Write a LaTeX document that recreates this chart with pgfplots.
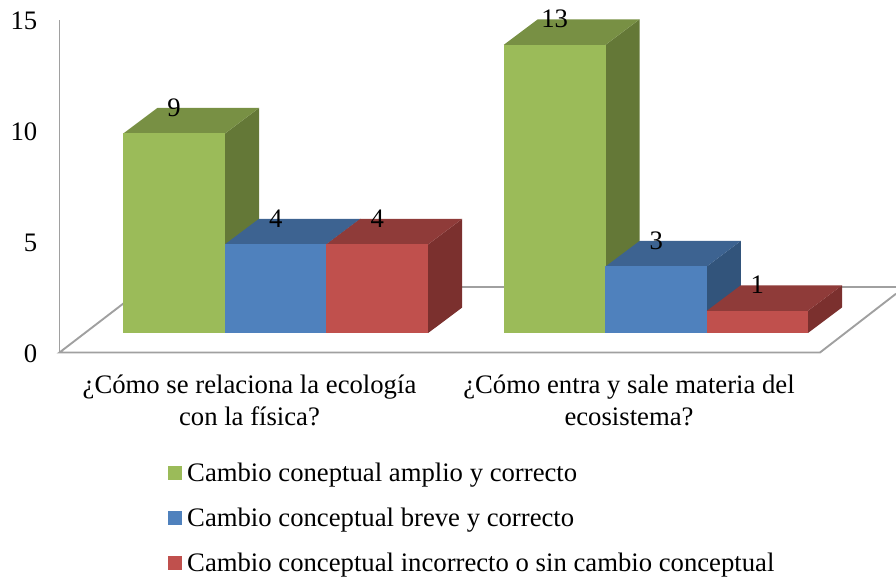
\documentclass[border=0pt]{standalone}
\usepackage{fontspec}
\setmainfont{Liberation Serif}
\usepackage{pgfplots}
\pgfplotsset{compat=1.18}
\newcommand{\chartfont}{\fontsize{26.7}{31.5}\selectfont}
\definecolor{greenfront}{HTML}{9BBB59}
\definecolor{greentop}{HTML}{789044}
\definecolor{greenside}{HTML}{647837}
\definecolor{bluefront}{HTML}{4F81BD}
\definecolor{bluetop}{HTML}{3D6391}
\definecolor{blueside}{HTML}{32547B}
\definecolor{redfront}{HTML}{C0504D}
\definecolor{redtop}{HTML}{8F3B39}
\definecolor{redside}{HTML}{7B302E}
\definecolor{wall}{HTML}{A0A0A0}
\pgfplotsset{
  /pgf/number format/assume math mode=true,
  panel/.style={
    scale only axis, clip=false,
    at={(59.5pt,224.5pt)}, anchor=south west,
    width=836.5pt, height=332.5pt,
    xmin=59.5, xmax=896,
  },
  face/.style={fill=#1, draw=none, forget plot, mark=none},
  swatch/.style={legend image code/.code={\fill[##1,draw=none] (0pt,-7pt) rectangle (14pt,7pt);}},
  column/.style={
    ybar, bar width=101.7pt, bar shift=0pt, fill=#1, draw=none, swatch,
    nodes near coords,
    every node near coord/.style={anchor=center, yshift=26pt, font=\chartfont, text=black, inner sep=0pt},
  },
}
\begin{document}
\begin{tikzpicture}[x=1pt,y=1pt]
\path[use as bounding box] (0,0) rectangle (896pt,577pt);

% Walls, floor and value axis
\begin{axis}[
  panel,
  ymin=0, ymax=15,
  axis x line=none,
  axis y line=left,
  axis line style={-, draw=wall, line width=1.9pt},
  ytick={0,5,10,15},
  major tick length=0pt,
  yticklabel style={font=\chartfont, anchor=east, xshift=-22pt, yshift=-1pt, inner sep=0pt},
  xtick=\empty,
]
\addplot[wall, line width=1.9pt, mark=none] coordinates {(144.5,2.94) (59.5,0) (820,0) (896,2.65)};
\addplot[wall, line width=1.9pt, mark=none] coordinates {(144.5,2.94) (896,2.94)};
\end{axis}

% Category labels
\begin{axis}[
  panel,
  ymin=0, ymax=15,
  axis x line=none, axis y line=none,
  xtick=\empty, ytick=\empty,
]
\node[font=\chartfont, align=center, anchor=north, inner sep=0pt] at (axis cs:249.5,-1.02) {¿Cómo se relaciona la ecología\\con la física?};
\node[font=\chartfont, align=center, anchor=north, inner sep=0pt] at (axis cs:629,-1.02) {¿Cómo entra y sale materia del\\ecosistema?};
\end{axis}

% Columns: the value 0 sits on the raised floor of the bars
\begin{axis}[
  panel,
  ymin=-0.881, ymax=14.119,
  hide axis,
  legend style={
    at={(108.5pt,-108pt)}, anchor=north west, draw=none, fill=none,
    font=\chartfont, row sep=21pt, inner sep=0pt, cells={anchor=west},
    /tikz/column 1/.style={column sep=3pt},
  },
  legend cell align=left,
]
% first series
\addplot[face=greenside] coordinates {(225,0) (259,1.15) (259,10.15) (225,9)} --cycle;
\addplot[face=greentop] coordinates {(123.3,9) (157.3,10.15) (259,10.15) (225,9)} --cycle;
\addplot[column=greenfront] coordinates {(174.1,9)};
\addlegendentry{Cambio coneptual amplio y correcto}
\addplot[face=greenside] coordinates {(605.6,0) (639.6,1.15) (639.6,14.15) (605.6,13)} --cycle;
\addplot[face=greentop] coordinates {(503.8,13) (537.8,14.15) (639.6,14.15) (605.6,13)} --cycle;
\addplot[column=greenfront, forget plot] coordinates {(554.7,13)};
% second series
\addplot[face=blueside] coordinates {(326.4,0) (360.4,1.15) (360.4,5.15) (326.4,4)} --cycle;
\addplot[face=bluetop] coordinates {(225,4) (259,5.15) (360.4,5.15) (326.4,4)} --cycle;
\addplot[column=bluefront] coordinates {(275.7,4)};
\addlegendentry{Cambio conceptual breve y correcto}
\addplot[face=blueside] coordinates {(706.8,0) (740.8,1.15) (740.8,4.15) (706.8,3)} --cycle;
\addplot[face=bluetop] coordinates {(605.6,3) (639.6,4.15) (740.8,4.15) (706.8,3)} --cycle;
\addplot[column=bluefront, forget plot] coordinates {(656.2,3)};
% third series
\addplot[face=redside] coordinates {(428.2,0) (462.2,1.15) (462.2,5.15) (428.2,4)} --cycle;
\addplot[face=redtop] coordinates {(326.4,4) (360.4,5.15) (462.2,5.15) (428.2,4)} --cycle;
\addplot[column=redfront] coordinates {(377.3,4)};
\addlegendentry{Cambio conceptual incorrecto o sin cambio conceptual}
\addplot[face=redside] coordinates {(808,0) (842,1.15) (842,2.15) (808,1)} --cycle;
\addplot[face=redtop] coordinates {(706.8,1) (740.8,2.15) (842,2.15) (808,1)} --cycle;
\addplot[column=redfront, forget plot] coordinates {(757.4,1)};
\end{axis}
\end{tikzpicture}
\end{document}
